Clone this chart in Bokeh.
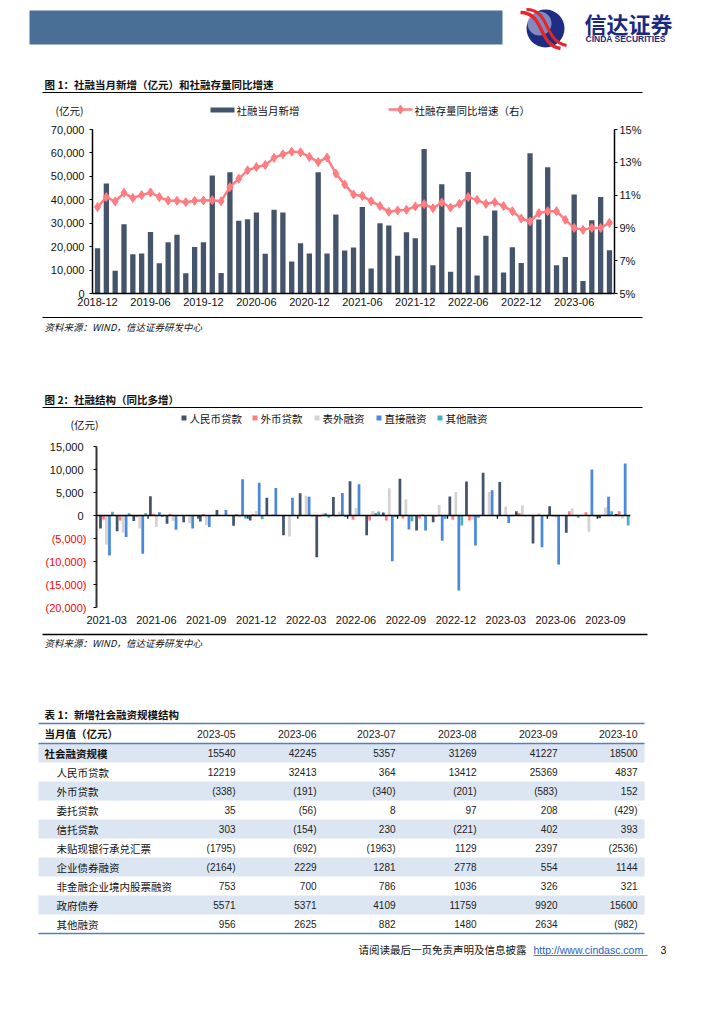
from bokeh.plotting import figure
from bokeh.layouts import column, row
from bokeh.models import Range1d, LinearAxis, FixedTicker, Span, NumeralTickFormatter
from bokeh.core.properties import value
from bokeh.embed import file_html
from bokeh.resources import INLINE

W = 708
CJK = "Noto Sans CJK SC"
NUM = "Liberation Sans"

# ---------------- Chart 1 data ----------------
months1 = ["2018-12", "2019-01", "2019-02", "2019-03", "2019-04", "2019-05", "2019-06", "2019-07",
           "2019-08", "2019-09", "2019-10", "2019-11", "2019-12", "2020-01", "2020-02", "2020-03",
           "2020-04", "2020-05", "2020-06", "2020-07", "2020-08", "2020-09", "2020-10", "2020-11",
           "2020-12", "2021-01", "2021-02", "2021-03", "2021-04", "2021-05", "2021-06", "2021-07",
           "2021-08", "2021-09", "2021-10", "2021-11", "2021-12", "2022-01", "2022-02", "2022-03",
           "2022-04", "2022-05", "2022-06", "2022-07", "2022-08", "2022-09", "2022-10", "2022-11",
           "2022-12", "2023-01", "2023-02", "2023-03", "2023-04", "2023-05", "2023-06", "2023-07",
           "2023-08", "2023-09", "2023-10"]
tsf_new = [19300, 46900, 9700, 29600, 16700, 17100, 26300, 12900, 21900, 25100, 8600, 19900,
           21900, 50400, 8700, 51700, 31000, 31700, 34600, 17000, 35700, 34600, 13700, 21400,
           17100, 51700, 17100, 33700, 18400, 19600, 36900, 10700, 30000, 29000, 16100, 26100,
           23600, 61700, 12100, 46600, 9300, 28300, 51900, 7700, 24700, 35400, 9000, 19700,
           13000, 59900, 31600, 53900, 12100, 15540, 42245, 5357, 31269, 41227, 18500]
tsf_growth = [10.27, 10.88, 10.61, 11.14, 10.82, 11.0, 11.16, 10.88, 10.67, 10.65, 10.57, 10.65,
              10.67, 10.69, 10.63, 11.49, 12.0, 12.51, 12.71, 12.84, 13.27, 13.49, 13.65, 13.61,
              13.33, 13.02, 13.29, 12.31, 11.65, 11.04, 10.95, 10.63, 10.33, 9.98, 10.06, 10.10,
              10.31, 10.45, 10.2, 10.55, 10.24, 10.47, 10.88, 10.71, 10.47, 10.57, 10.33, 10.02,
              9.57, 9.39, 9.90, 10.02, 10.02, 9.49, 9.0, 8.88, 9.0, 9.0, 9.31]
left_ticks1 = [0, 10000, 20000, 30000, 40000, 50000, 60000, 70000]
right_ticks1 = [5, 7, 9, 11, 13, 15]

# ---------------- Chart 2 data ----------------
months2 = ["2021-03", "2021-04", "2021-05", "2021-06", "2021-07", "2021-08", "2021-09", "2021-10",
           "2021-11", "2021-12", "2022-01", "2022-02", "2022-03", "2022-04", "2022-05", "2022-06",
           "2022-07", "2022-08", "2022-09", "2022-10", "2022-11", "2022-12", "2023-01", "2023-02",
           "2023-03", "2023-04", "2023-05", "2023-06", "2023-07", "2023-08", "2023-09", "2023-10"]
rmb_loans = [-2800, -3400, -1200, 4200, -1800, -1450, -1300, 1200, -2250, -1100, 3850, -4300,
             4850, -9050, 4000, 7450, -4300, 650, 8000, -3250, -1450, 4150, 7400, 9300,
             7300, 950, -6100, 2000, -3750, -100, -600, 350]
fx_loans = [-870, -1100, -400, 400, 400, 50, 300, 100, 300, 300, 100, 0,
            0, -350, -200, -950, -1100, -1100, -650, -650, -350, -950, -1100, 0,
            0, 500, -150, -200, 950, 700, 0, 950]
off_balance = [-6300, -3700, -2800, -2500, -1200, -1700, -2100, 0, -400, 1000, 350, -4550,
               4300, 500, 800, 1650, 1000, 5900, 3550, 300, 2300, 5100, -900, 5100,
               1950, 2200, 500, -500, 1600, -3550, 1750, -700]
direct_fin = [-8700, -4700, -8300, 700, -3100, -2800, -2500, 1200, 7900, 7100, 6000, 3850,
              4050, 500, 4900, 6800, 500, -9950, -3050, -3250, -5500, -16300, -6500, 5500,
              -1650, -150, -6900, -10650, 100, 10000, 4050, 11300]
other_fin = [800, 500, 500, -350, 0, 100, 0, 0, -650, -800, 0, 0,
             -200, -500, -350, 0, 850, -350, -1250, 0, -700, -2200, -500, 0,
             -150, -100, 0, 0, -500, -200, 950, -2150]
series2_names = ["人民币贷款", "外币贷款", "表外融资", "直接融资", "其他融资"]
series2_colors = ["#44546A", "#FF7C80", "#D3D3D3", "#4A89DC", "#4BACC6"]
y_ticks2 = [-20000, -15000, -10000, -5000, 0, 5000, 10000, 15000]

# ---------------- Table data ----------------
tbl_cols = ["2023-05", "2023-06", "2023-07", "2023-08", "2023-09", "2023-10"]
tbl_rows = ["社会融资规模", "人民币贷款", "外币贷款", "委托贷款", "信托贷款", "未贴现银行承兑汇票",
            "企业债券融资", "非金融企业境内股票融资", "政府债券", "其他融资"]
row_tsf = [15540, 42245, 5357, 31269, 41227, 18500]
row_rmb = [12219, 32413, 364, 13412, 25369, 4837]
row_fx = [-338, -191, -340, -201, -583, 152]
row_entrust = [35, -56, 8, 97, 208, -429]
row_trust = [303, -154, 230, -221, 402, 393]
row_bill = [-1795, -692, -1963, 1129, 2397, -2536]
row_bond = [-2164, 2229, 1281, 2778, 554, 1144]
row_equity = [753, 700, 786, 1036, 326, 321]
row_gov = [5571, 5371, 4109, 11759, 9920, 15600]
row_other = [956, 2625, 882, 1480, 2634, -982]
tbl_vals = [row_tsf, row_rmb, row_fx, row_entrust, row_trust, row_bill, row_bond, row_equity,
            row_gov, row_other]

NAVY = "#44546A"
PINK = "#FF7C80"


def deco(top, bottom, left=8, width=W):
    p = figure(width=width, height=bottom - top, x_range=Range1d(left, left + width),
               y_range=Range1d(bottom, top), frame_align=False,
               output_backend="svg", toolbar_location=None, min_border=0,
               x_axis_location=None, y_axis_location=None)
    p.grid.visible = False
    p.outline_line_color = None
    p.background_fill_color = "white"
    p.border_fill_color = "white"
    return p


def txt(p, x, y, s, size="10.5px", font=CJK, color="#111111", align="left", style="normal"):
    p.text(x=[x], y=[y], text=[s], text_font=value(font), text_font_size=value(size),
           text_color=color, text_align=align, text_baseline="middle", text_font_style=style)


def hline(p, x0, x1, y, color="black", w=1.0):
    p.segment(x0=[x0], x1=[x1], y0=[y], y1=[y], line_color=color, line_width=w)


def style_axis(ax, size="11px"):
    ax.major_label_text_font = NUM
    ax.major_label_text_font_size = size
    ax.major_label_text_color = "#111111"
    ax.minor_tick_line_color = None
    ax.major_tick_in = 0
    ax.major_tick_out = 3
    ax.axis_line_color = "black"
    ax.major_tick_line_color = "black"


# ================= Header + chart 1 title =================
fH = deco(8, 130)
fH.quad(left=[37], right=[510], top=[18], bottom=[52], fill_color="#4A6F97", line_color=None)
fH.circle(x=[553], y=[36], radius=19, fill_color="#1F2C84", line_color=None)
fH.circle(x=[547], y=[31], radius=12, fill_color="#C5CCE6", line_color=None, fill_alpha=0.6)
fH.bezier(x0=[528], y0=[20], x1=[568], y1=[56], cx0=[552], cy0=[20], cx1=[545], cy1=[52],
          line_color="#E3262C", line_width=3.5)
fH.bezier(x0=[534], y0=[17], x1=[574], y1=[53], cx0=[558], cy0=[17], cx1=[551], cy1=[49],
          line_color="#E3262C", line_width=3)
txt(fH, 592, 30, "信达证券", size="22px", color="#1B2A80", style="bold")
txt(fH, 593, 46, "CINDA SECURITIES", size="8.5px", font=NUM, color="#1B2A80", style="bold")

txt(fH, 52, 92, "图 1：社融当月新增（亿元）和社融存量同比增速", size="10.5px", style="bold")
hline(fH, 50, 650, 100, w=1.2)
txt(fH, 63, 118, "(亿元)", size="10.5px")
fH.quad(left=[218], right=[242], top=[115], bottom=[120], fill_color=NAVY, line_color=None)
txt(fH, 244, 118, "社融当月新增", size="10.5px")
hline(fH, 396, 420, 117, color=PINK, w=2.5)
fH.scatter(x=[408], y=[117], marker="diamond", size=9, color=PINK)
txt(fH, 422, 118, "社融存量同比增速（右）", size="10.5px")

# ================= Chart 1 =================
x1 = list(range(len(months1)))
c1 = figure(width=W, height=192, x_range=Range1d(-0.57, 58.57), y_range=Range1d(0, 70000),
            output_backend="svg", toolbar_location=None, frame_align=False,
            min_border_top=7, min_border_bottom=21, min_border_left=92, min_border_right=94)
c1.extra_y_ranges = {"pct": Range1d(5, 15)}
c1.grid.visible = False
c1.outline_line_color = None
c1.vbar(x=x1, top=tsf_new, width=0.6, fill_color=NAVY, line_color=None)
c1.line(x1, tsf_growth, y_range_name="pct", line_color=PINK, line_width=2.5)
c1.scatter(x1, tsf_growth, y_range_name="pct", marker="diamond", size=9, color=PINK)

xt1 = list(range(0, len(months1), 6))
c1.xaxis.ticker = FixedTicker(ticks=xt1)
c1.xaxis.major_label_overrides = {i: months1[i] for i in xt1}
c1.yaxis.ticker = FixedTicker(ticks=left_ticks1)
c1.yaxis.formatter = NumeralTickFormatter(format="0,0")
rax = LinearAxis(y_range_name="pct", ticker=FixedTicker(ticks=right_ticks1),
                 major_label_overrides={t: f"{t}%" for t in right_ticks1})
c1.add_layout(rax, "right")
for ax in [c1.xaxis[0], c1.yaxis[0], rax]:
    style_axis(ax)
c1.xaxis.major_tick_out = 0
c1.xaxis.major_label_standoff = 4
c1.yaxis[0].major_label_standoff = 5
rax.major_label_standoff = 2
c1.yaxis[0].axis_line_width = 1.5
rax.axis_line_width = 1.5
c1.xaxis.axis_line_width = 1.5

# ================= source 1 + chart 2 title =================
fS = deco(322, 447)
hline(fS, 50, 650, 325, w=1.2)
txt(fS, 52, 334, "资料来源：WIND，信达证券研发中心", size="9.5px", style="italic")
txt(fS, 52, 407, "图 2：社融结构（同比多增）", size="10.5px", style="bold")
hline(fS, 50, 650, 415, w=1.2)
leg_x = [189, 260, 322, 384, 445]
for lx, nm, col in zip(leg_x, series2_names, series2_colors):
    fS.quad(left=[lx], right=[lx + 5], top=[423], bottom=[428], fill_color=col, line_color=None)
    txt(fS, lx + 8, 425.5, nm, size="10.5px")
txt(fS, 78, 432, "(亿元)", size="10.5px")

# ================= Chart 2 =================
C2_H, C2_TOP, C2_BOT = 193, 7, 25
Y2_MIN, Y2_MAX = -20000, 15000
c2 = figure(width=W - 86, height=C2_H, x_range=Range1d(-0.6, 31.5), y_range=Range1d(Y2_MIN, Y2_MAX),
            output_backend="svg", toolbar_location=None, frame_align=False,
            min_border_top=C2_TOP, min_border_bottom=C2_BOT, min_border_left=10, min_border_right=78)
c2.grid.visible = False
c2.outline_line_color = None
series2 = [rmb_loans, fx_loans, off_balance, direct_fin, other_fin]
idx2 = list(range(len(months2)))
for j, (vals, col) in enumerate(zip(series2, series2_colors)):
    c2.vbar(x=[i + (j - 2) * 0.18 for i in idx2], top=vals, bottom=0, width=0.165,
            fill_color=col, line_color=None)
c2.add_layout(Span(location=0, dimension="width", line_color="black", line_width=1.6))
bounds = [i - 0.5 for i in range(3, len(months2), 3)]
c2.segment(x0=bounds, x1=bounds, y0=[0] * len(bounds), y1=[-700] * len(bounds),
           line_color="black", line_width=1.2)

xt2 = list(range(0, len(months2), 3))
c2.xaxis.ticker = FixedTicker(ticks=xt2)
c2.xaxis.major_label_overrides = {i: months2[i] for i in xt2}
style_axis(c2.xaxis[0])
c2.xaxis.axis_line_color = None
c2.xaxis.major_tick_line_color = None
c2.xaxis.major_label_standoff = 5
c2.yaxis.ticker = FixedTicker(ticks=y_ticks2)
c2.yaxis.major_label_overrides = {t: "" for t in y_ticks2}
style_axis(c2.yaxis[0])
c2.yaxis.major_label_standoff = 0
c2.yaxis.axis_line_color = "#333333"
c2.yaxis.axis_line_width = 2

# tick-label strip using the same y scale as chart 2 (extended over its borders so no clipping)
units_per_px = (Y2_MAX - Y2_MIN) / (C2_H - C2_TOP - C2_BOT)
fL = figure(width=86, height=C2_H, x_range=Range1d(8, 94),
            y_range=Range1d(Y2_MIN - C2_BOT * units_per_px, Y2_MAX + C2_TOP * units_per_px),
            output_backend="svg", toolbar_location=None, frame_align=False, min_border=0,
            x_axis_location=None, y_axis_location=None)
fL.grid.visible = False
fL.outline_line_color = None
pos_t = [t for t in y_ticks2 if t >= 0]
neg_t = [t for t in y_ticks2 if t < 0]
fL.text(x=[91] * len(pos_t), y=pos_t, text=[f"{t:,}" for t in pos_t], text_font=value(NUM),
        text_font_size=value("11px"), text_color="#111111", text_align="right", text_baseline="middle")
fL.text(x=[94] * len(neg_t), y=neg_t, text=[f"({-t:,})" for t in neg_t], text_font=value(NUM),
        text_font_size=value("11px"), text_color="#FF0000", text_align="right", text_baseline="middle")

# ================= Table + footer =================
fT = deco(640, 1016)
hline(fT, 50, 655, 642, w=1.5)
txt(fT, 52, 650, "资料来源：WIND，信达证券研发中心", size="9.5px", style="italic")
txt(fT, 52, 722, "表 1：新增社会融资规模结构", size="10.5px", style="bold")
TL, TR = 46, 652
row_h = 19
row_top0 = 751
for i in range(len(tbl_rows)):
    if i % 2 == 0:
        fT.quad(left=[TL], right=[TR], top=[row_top0 + i * row_h], bottom=[row_top0 + (i + 1) * row_h],
                fill_color="#DCE6F2", line_color=None)
hline(fT, TL, TR, 731, color="#4F81BD", w=1.5)
hline(fT, TL, TR, 751, color="#4F81BD", w=1.5)
hline(fT, TL, TR, row_top0 + len(tbl_rows) * row_h, color="#4F81BD", w=1.5)
col_right = [243, 324, 403, 484, 565, 645]
txt(fT, 52, 741, "当月值（亿元）", size="10.5px", style="bold")
for cx, c in zip(col_right, tbl_cols):
    txt(fT, cx, 741, c, size="10.5px", font=NUM, color="#222222", align="right")


def fmt(v):
    return f"({-v})" if v < 0 else f"{v}"


for i, (rn, vals) in enumerate(zip(tbl_rows, tbl_vals)):
    yc = row_top0 + i * row_h + row_h / 2
    if i == 0:
        txt(fT, 52, yc, rn, size="10.5px", style="bold")
    else:
        txt(fT, 64, yc, rn, size="10.5px")
    for cx, v in zip(col_right, vals):
        txt(fT, cx, yc, fmt(v), size="10px", font=NUM, color="#222222", align="right")

txt(fT, 366, 957, "请阅读最后一页免责声明及信息披露", size="10.5px")
txt(fT, 541, 957, "http://www.cindasc.com", size="10.5px", font=NUM, color="#1F5FBF")
hline(fT, 541, 655, 963, color="#1F5FBF", w=0.8)
txt(fT, 668, 957, "3", size="10.5px", font=NUM)

page = column(fH, c1, fS, row(fL, c2, spacing=0), fT, spacing=0)
open("out.html", "w").write(file_html(page, INLINE))
